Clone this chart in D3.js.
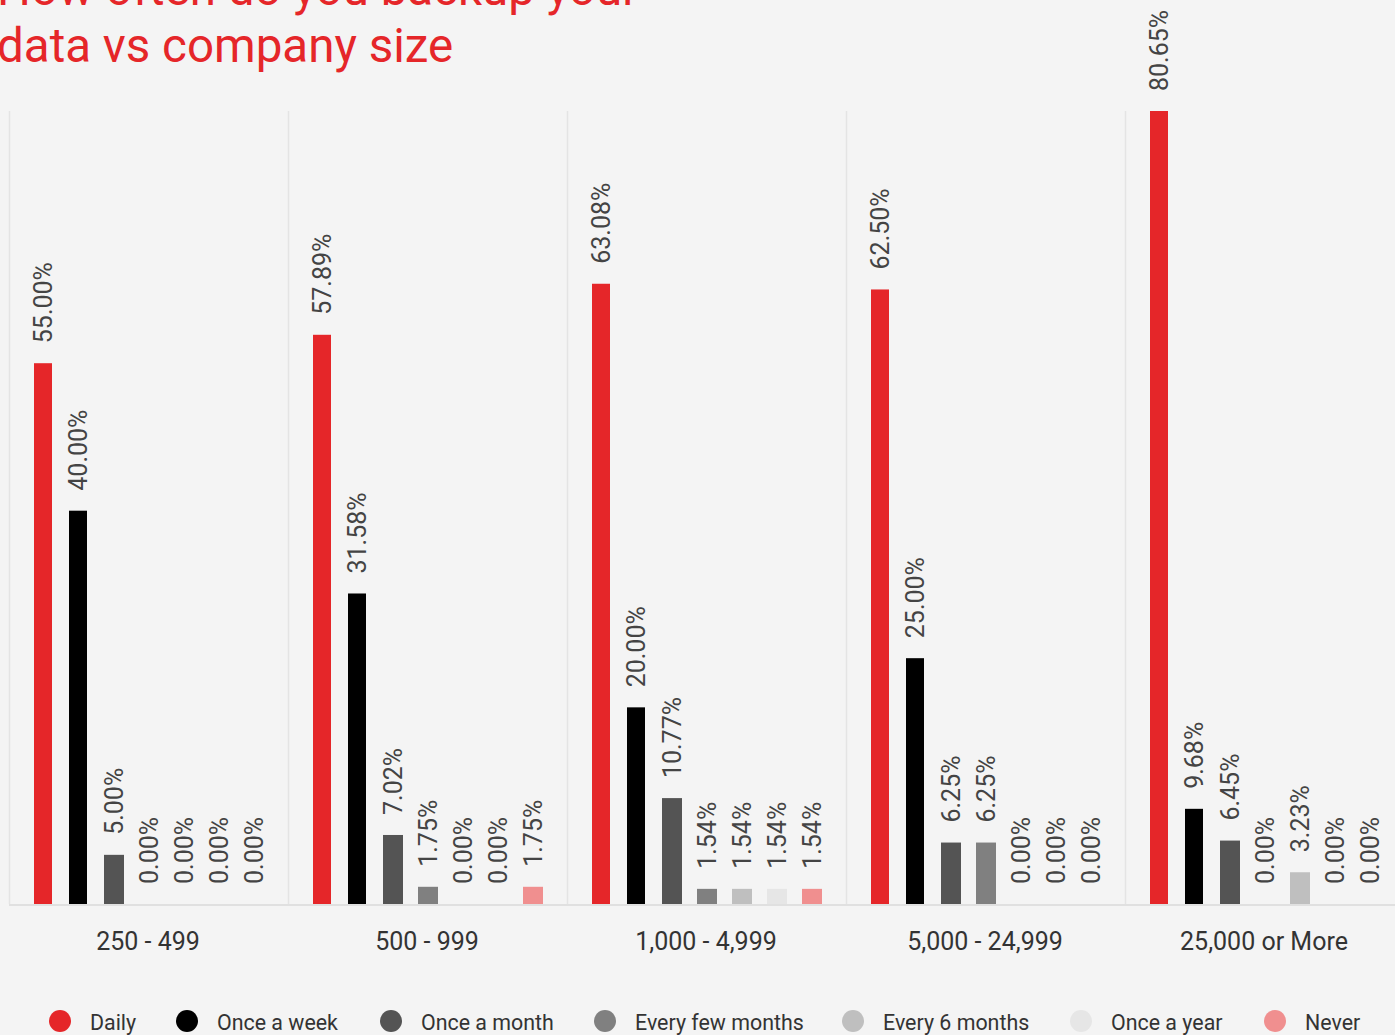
<!DOCTYPE html>
<html>
<head>
<meta charset="utf-8">
<script src="https://cdn.jsdelivr.net/npm/d3@7"></script>
<style>
  html, body { margin: 0; padding: 0; background: #f4f4f4; overflow: hidden; }
  text { font-family: Roboto, "Noto Sans", sans-serif; }
</style>
</head>
<body>
<div class="chart"></div>
<script>
var categories = ['250 - 499', '500 - 999', '1,000 - 4,999', '5,000 - 24,999', '25,000 or More'];
var series = ['Daily', 'Once a week', 'Once a month', 'Every few months', 'Every 6 months', 'Once a year', 'Never'];
var colors = ['#e52629', '#000000', '#545454', '#808080', '#bfbfbf', '#e6e6e6', '#f08f8f'];

// one array per company size, in series order
var values = [
  [55.00, 40.00, 5.00, 0.00, 0.00, 0.00, 0.00],
  [57.89, 31.58, 7.02, 1.75, 0.00, 0.00, 1.75],
  [63.08, 20.00, 10.77, 1.54, 1.54, 1.54, 1.54],
  [62.50, 25.00, 6.25, 6.25, 0.00, 0.00, 0.00],
  [80.65, 9.68, 6.45, 0.00, 3.23, 0.00, 0.00]
];

var titleLines = ['How often do you backup your', 'data vs company size'];

var width = 1395,
    height = 1035,
    plotLeft = 9,
    plotRight = 1404,
    plotTop = 111,
    baseY = 904;

var svg = d3.select('.chart').append('svg')
  .attr('width', width)
  .attr('height', height);

svg.append('rect')
  .attr('width', width)
  .attr('height', height)
  .attr('fill', '#f4f4f4');

// title (partly above the top edge, as in the source)
svg.append('g').attr('class', 'title')
  .selectAll('text')
  .data(titleLines)
  .enter().append('text')
    .attr('x', -3)
    .attr('y', function(d, i) { return 5 + i * 57; })
    .attr('font-size', 47.5)
    .attr('fill', '#e52629')
    .text(function(d) { return d; });

var x0 = d3.scaleBand()
  .domain(categories)
  .range([plotLeft, plotRight]);

var x1 = d3.scaleBand()
  .domain(series)
  .range([25, 270]);

var y = d3.scaleLinear()
  .domain([0, 80.65])
  .range([baseY, plotTop]);

// group dividers
svg.append('g').attr('class', 'dividers')
  .selectAll('line')
  .data(categories)
  .enter().append('line')
    .attr('x1', function(d) { return x0(d) + 0.5; })
    .attr('x2', function(d) { return x0(d) + 0.5; })
    .attr('y1', plotTop)
    .attr('y2', baseY)
    .attr('stroke', '#e4e4e4')
    .attr('stroke-width', 1.5);

// baseline
svg.append('line')
  .attr('x1', plotLeft)
  .attr('x2', width)
  .attr('y1', baseY + 1)
  .attr('y2', baseY + 1)
  .attr('stroke', '#e0e0e0')
  .attr('stroke-width', 2);

function barWidth(i) {
  return i < 2 ? 18 : 20;
}

var groups = svg.append('g').attr('class', 'groups')
  .selectAll('g')
  .data(categories)
  .enter().append('g')
    .attr('transform', function(d) { return 'translate(' + x0(d) + ',0)'; });

var cells = groups.selectAll('g.cell')
  .data(function(d, gi) {
    return series.map(function(s, i) {
      return { series: s, index: i, value: values[gi][i] };
    });
  })
  .enter().append('g')
    .attr('class', 'cell');

cells.append('rect')
  .attr('x', function(d) { return x1(d.series); })
  .attr('y', function(d) { return y(d.value); })
  .attr('width', function(d) { return barWidth(d.index); })
  .attr('height', function(d) { return baseY - y(d.value); })
  .attr('fill', function(d) { return colors[d.index]; });

cells.append('text')
  .attr('transform', function(d) {
    var cx = x1(d.series) + barWidth(d.index) / 2 + 9;
    return 'translate(' + cx + ',' + (y(d.value) - 20) + ') rotate(-90)';
  })
  .attr('font-size', 25)
  .attr('fill', '#444')
  .text(function(d) { return d.value.toFixed(2) + '%'; });

// category labels
svg.append('g').attr('class', 'x-labels')
  .selectAll('text')
  .data(categories)
  .enter().append('text')
    .attr('x', function(d) { return x0(d) + 139; })
    .attr('y', 950)
    .attr('text-anchor', 'middle')
    .attr('font-size', 25)
    .attr('fill', '#333')
    .text(function(d) { return d; });

// legend
var legendX = [60, 187, 391, 605, 853, 1081, 1275];
var legend = svg.append('g').attr('class', 'legend')
  .selectAll('g')
  .data(series)
  .enter().append('g')
    .attr('transform', function(d, i) { return 'translate(' + legendX[i] + ',1021)'; });

legend.append('circle')
  .attr('r', 11)
  .attr('fill', function(d, i) { return colors[i]; });

legend.append('text')
  .attr('x', 30)
  .attr('y', 9)
  .attr('font-size', 21.4)
  .attr('fill', '#333')
  .text(function(d) { return d; });
</script>
</body>
</html>
